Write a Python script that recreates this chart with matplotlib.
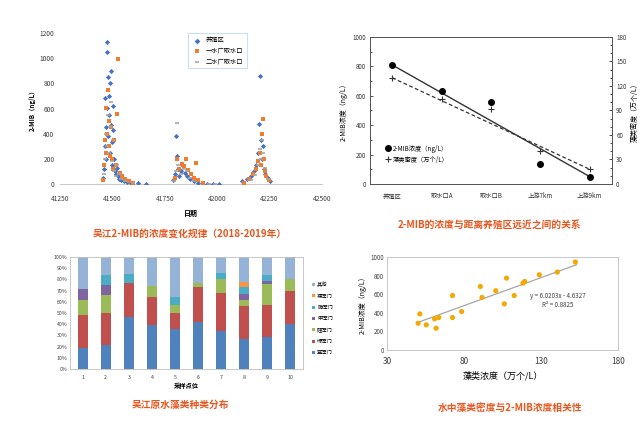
import matplotlib
matplotlib.use("Agg")
import matplotlib.pyplot as plt
import numpy as np

plt.rcParams['font.family'] = ['Noto Sans CJK SC', 'DejaVu Sans']
plt.rcParams['axes.unicode_minus'] = False

# ---------------- Panel A: time series ----------------
a_series = ["养殖区", "一水厂取水口", "二水厂取水口"]
a_blue_x = [41455, 41460, 41463, 41466, 41468, 41470, 41472, 41474, 41476, 41478, 41480, 41482, 41485, 41487,
            41490, 41492, 41495, 41497, 41500, 41503, 41505, 41508, 41512, 41515, 41520, 41525, 41530, 41540,
            41555, 41570, 41590, 41620, 41660, 41790, 41800, 41805, 41808, 41812, 41818, 41825, 41835, 41845,
            41855, 41870, 41890, 41910, 41950, 41980, 42010, 42120, 42140, 42160, 42175, 42185, 42195, 42200,
            42205, 42210, 42215, 42220, 42225, 42230, 42240, 42250]
a_blue_y = [50, 120, 300, 680, 450, 200, 1130, 1050, 600, 850, 380, 700, 550, 250,
            800, 470, 900, 330, 150, 620, 430, 200, 100, 80, 130, 60, 40, 30,
            20, 15, 10, 5, 3, 30, 80, 380, 220, 120, 60, 100, 140, 90,
            60, 40, 20, 10, 0, 0, 0, 20, 40, 60, 100, 150, 250, 480,
            855, 350, 200, 300, 120, 80, 50, 20]
a_orange_x = [41455, 41460, 41464, 41468, 41471, 41475, 41478, 41482, 41485, 41490, 41495, 41500, 41505, 41510,
              41515, 41520, 41525, 41535, 41545, 41560, 41580, 41600, 41800, 41810, 41820, 41830, 41840, 41850,
              41860, 41875, 41890, 41900, 41910, 41930, 42130, 42150, 42170, 42185, 42195, 42205, 42210, 42215,
              42218, 42222, 42228, 42235, 42245]
a_orange_y = [30, 150, 350, 250, 600, 400, 750, 300, 500, 220, 450, 200, 120, 350,
              150, 560, 990, 90, 60, 40, 20, 10, 50, 200, 120, 160, 140, 200,
              110, 80, 50, 170, 30, 10, 10, 40, 80, 120, 180, 250, 150, 400,
              515, 200, 100, 60, 30]
a_gray_x = [41458, 41465, 41470, 41474, 41478, 41483, 41488, 41493, 41498, 41503, 41508, 41515, 41522, 41530,
            41540, 41560, 41600, 41795, 41805, 41810, 41815, 41825, 41840, 41855, 41870, 41890, 41960, 41990,
            42160, 42180, 42195, 42205, 42210, 42215, 42220, 42228, 42240]
a_gray_y = [80, 200, 400, 300, 550, 250, 450, 650, 180, 350, 100, 60, 150, 80,
            40, 20, 5, 20, 100, 488, 150, 80, 120, 100, 50, 25, 0, 0,
            30, 70, 150, 280, 200, 350, 250, 130, 40]
a_xticks = [41250, 41500, 41750, 42000, 42250, 42500]
a_yticks = [0, 200, 400, 600, 800, 1000, 1200]

# ---------------- Panel B: distance relationship ----------------
b_cats = ["养殖区", "取水口A", "取水口B", "上游7km", "上游9km"]
b_mib = [810, 635, 560, 135, 45]
b_mib_fit = [810, 50]
b_algae = [130, 104, 92, 41, 18]
b_algae_fit = [130, 18]
b_left_ticks = [0, 200, 400, 600, 800, 1000]
b_right_ticks = [0, 30, 60, 90, 120, 150, 180]
b_labels = ["2-MIB浓度（ng/L）", "藻类密度（万个/L）"]

# ---------------- Panel C: stacked algae composition ----------------
c_sites = ["1", "2", "3", "4", "5", "6", "7", "8", "9", "10"]
c_names = ["蓝藻门", "绿藻门", "硅藻门", "甲藻门", "隐藻门", "裸藻门", "其他"]
c_blue = [18.5, 21, 46, 39, 36, 42, 34, 27, 29, 40]
c_red = [29.5, 29, 31, 25, 14, 31, 34, 29, 28, 30]
c_green = [14, 16, 0, 10, 7, 4, 12, 6, 19, 10]
c_purple = [9, 9, 0, 0, 0, 0, 0, 5, 3, 0]
c_teal = [0, 9, 8, 0, 7, 0, 6, 6, 5, 0]
c_orange = [0, 0, 0, 0, 0, 0, 0, 5, 0, 0]
c_other = [29, 16, 15, 26, 36, 23, 14, 22, 16, 20]

# ---------------- Panel D: correlation ----------------
d_x = [51.3, 50.2, 55.5, 60.9, 61.9, 63.6, 72.5, 72.5, 78.5, 90.6, 91.7, 100.6, 107.6, 106.2,
       112.6, 119.4, 118.3, 128.9, 140.6, 152.3]
d_y = [388, 288, 270, 335, 234, 349, 586, 349, 414, 683, 565, 637, 773, 496,
       586, 737, 719, 809, 838, 946]
d_slope = 6.0203
d_intercept = -4.6327
d_fit_x = [50, 153]

W, H = 641, 425
fig = plt.figure(figsize=(W / 100, H / 100), dpi=100)
fig.patch.set_facecolor("white")

def ax_at(l, t, r, b):
    return fig.add_axes([l / W, 1 - b / H, (r - l) / W, (b - t) / H])

orange_title = "#E8561E"
tick_fs = 4.8

# ----- Panel A -----
axA = ax_at(60, 33, 322, 184)
axA.scatter(a_blue_x, a_blue_y, s=7, color="#4472C4", marker="D", linewidths=0, label=a_series[0], zorder=3)
axA.scatter(a_orange_x, a_orange_y, s=8, color="#ED7D31", marker="s", linewidths=0, label=a_series[1], zorder=3)
axA.scatter(a_gray_x, a_gray_y, s=8, color="#A5A5A5", marker="_", linewidths=1.2, label=a_series[2], zorder=3)
axA.set_xlim(41250, 42500)
axA.set_ylim(0, 1200)
axA.set_xticks(a_xticks)
axA.set_yticks(a_yticks)
axA.tick_params(labelsize=tick_fs, length=0, colors="#404040")
axA.tick_params(axis="x", pad=8)
axA.tick_params(axis="y", pad=4)
for s in ["top", "right", "left"]:
    axA.spines[s].set_visible(False)
axA.spines["bottom"].set_color("#BFBFBF")
axA.spines["bottom"].set_linewidth(0.6)
axA.set_ylabel("2-MIB（ng/L）", fontsize=4.5, labelpad=3, fontweight="bold")
axA.set_xlabel("日期", fontsize=5, labelpad=5, fontweight="bold")
leg = axA.legend(loc="upper center", bbox_to_anchor=(0.6, 1.02), fontsize=4.5, frameon=True,
                 markerscale=1.1, handletextpad=0.4, borderpad=0.5, labelspacing=0.4)
leg.get_frame().set_edgecolor("#BDD7EE")
leg.get_frame().set_linewidth(0.8)
leg.get_frame().set_boxstyle("square", pad=0)
fig.text(190 / W, 1 - 234 / H, "吴江2-MIB的浓度变化规律（2018-2019年）", color=orange_title,
         fontsize=7, ha="center", va="center", fontweight="bold")

# ----- Panel B -----
axB = ax_at(370, 37, 612, 184)
xb = np.arange(len(b_cats))
axB.plot([xb[0], xb[-1]], b_mib_fit, color="#333333", lw=1.0, zorder=2)
axB.plot(xb, b_mib, "o", color="black", ms=4, zorder=3, label=b_labels[0])
axB.set_xlim(-0.45, 4.45)
axB.set_ylim(0, 1000)
axB.set_yticks(b_left_ticks)
axB.set_xticks(xb)
axB.set_xticklabels(b_cats)
axB.tick_params(labelsize=4.5, direction="in", length=2.5, width=0.6, pad=3, colors="#333333")
axB.tick_params(axis="x", length=0, pad=6)
axB.set_ylabel(b_labels[0], fontsize=5, labelpad=3)
axB.yaxis.set_minor_locator(matplotlib.ticker.MultipleLocator(100))
axB.tick_params(which="minor", direction="in", length=1.5, width=0.5)
for s in axB.spines.values():
    s.set_color("#555555")
    s.set_linewidth(0.7)
axB2 = axB.twinx()
axB2.plot([xb[0], xb[-1]], b_algae_fit, color="#333333", lw=0.9, ls=(0, (3, 2)), zorder=2)
axB2.plot(xb, b_algae, "+", color="#333333", ms=4, mew=0.8, zorder=3, label=b_labels[1])
axB2.set_ylim(0, 180)
axB2.set_yticks(b_right_ticks)
axB2.tick_params(labelsize=4.5, direction="in", length=2.5, width=0.6, pad=3, colors="#333333")
axB2.yaxis.set_minor_locator(matplotlib.ticker.MultipleLocator(10))
axB2.tick_params(which="minor", direction="in", length=1.5, width=0.5)
axB2.set_ylabel(b_labels[1], fontsize=5, labelpad=3)
for s in axB2.spines.values():
    s.set_color("#555555")
    s.set_linewidth(0.7)
h1, l1 = axB.get_legend_handles_labels()
h2, l2 = axB2.get_legend_handles_labels()
axB.legend(h1 + h2, l1 + l2, loc="lower left", bbox_to_anchor=(0.04, 0.1), fontsize=4.5, frameon=False,
           handletextpad=0.2, labelspacing=0.5, handlelength=1.0)
fig.text(490 / W, 1 - 225 / H, "2-MIB的浓度与距离养殖区远近之间的关系", color=orange_title,
         fontsize=7, ha="center", va="center", fontweight="bold")

# ----- Panel C -----
axC = ax_at(70, 257, 303, 369)
xc = np.arange(len(c_sites))
c_colors = ["#4F81BD", "#C0504D", "#9BBB59", "#8064A2", "#4BACC6", "#F79646", "#95B3D7"]
c_data = [c_blue, c_red, c_green, c_purple, c_teal, c_orange, c_other]
bottom = np.zeros(len(c_sites))
handles = []
for vals, col, name in zip(c_data, c_colors, c_names):
    h = axC.bar(xc, vals, bottom=bottom, width=0.42, color=col, label=name, zorder=2)
    handles.append(h)
    bottom = bottom + np.array(vals)
axC.set_xlim(-0.55, len(c_sites) - 0.45)
axC.set_ylim(0, 100)
axC.set_yticks(np.arange(0, 101, 10))
axC.set_yticklabels([f"{v}%" for v in range(0, 101, 10)])
axC.set_xticks(xc)
axC.set_xticklabels(c_sites)
axC.tick_params(labelsize=3.8, length=0, pad=2, colors="#404040")
axC.tick_params(axis="x", pad=4)
for s in axC.spines.values():
    s.set_color("#BFBFBF")
    s.set_linewidth(0.6)
axC.set_xlabel("采样点位", fontsize=4.5, labelpad=2, fontweight="bold")
axC.legend(handles[::-1], c_names[::-1], loc="center left", bbox_to_anchor=(1.02, 0.45), fontsize=3.8,
           frameon=False, handlelength=0.5, handleheight=0.5, handletextpad=0.4, labelspacing=1.2)
fig.text(180 / W, 1 - 405 / H, "吴江原水藻类种类分布", color=orange_title,
         fontsize=7, ha="center", va="center", fontweight="bold")

# ----- Panel D -----
axD = ax_at(387, 257, 618, 350)
fit_y = [d_slope * v + d_intercept for v in d_fit_x]
axD.plot(d_fit_x, fit_y, color="#A6A6A6", lw=0.9, zorder=2)
axD.scatter(d_x, d_y, s=14, color="#F5A800", edgecolors="none", zorder=3)
axD.set_xlim(30, 180)
axD.set_ylim(0, 1000)
axD.set_xticks([30, 80, 130, 180])
axD.set_yticks([0, 200, 400, 600, 800, 1000])
axD.tick_params(axis="y", labelsize=4.5, length=0, pad=2, colors="#404040")
axD.tick_params(axis="x", labelsize=6, length=0, pad=5, colors="#404040")
for s in axD.spines.values():
    s.set_color("#BFBFBF")
    s.set_linewidth(0.6)
axD.set_ylabel("2-MIB浓度（ng/L）", fontsize=5, labelpad=3)
axD.set_xlabel("藻类浓度（万个/L）", fontsize=6.5, labelpad=4)
axD.text(0.62, 0.53, f"y = {d_slope:.4f}x - {abs(d_intercept):.4f}\nR² = 0.8825", transform=axD.transAxes,
         fontsize=4.5, ha="left", va="center", color="#404040", linespacing=1.1, multialignment="center")
fig.text(510 / W, 1 - 408 / H, "水中藻类密度与2-MIB浓度相关性", color=orange_title,
         fontsize=7, ha="center", va="center", fontweight="bold")

fig.savefig("out.png", dpi=100, facecolor="white")
